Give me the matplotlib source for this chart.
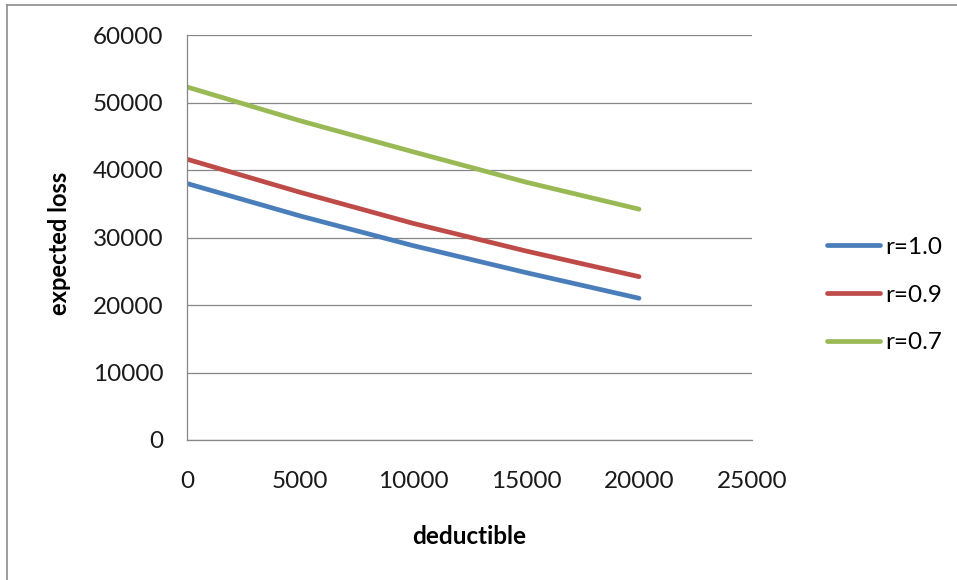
import matplotlib.pyplot as plt
from matplotlib.lines import Line2D

plt.rcParams['font.family'] = ['Lato', 'DejaVu Sans']

deductible = [0, 5000, 10000, 15000, 20000]
loss_r10 = [38000, 33200, 28800, 24800, 21000]
loss_r09 = [41600, 36700, 32100, 28000, 24200]
loss_r07 = [52300, 47300, 42700, 38200, 34200]
labels = ['r=1.0', 'r=0.9', 'r=0.7']
colors = ['#4A7EBB', '#BE4B48', '#98B954']

W, H = 957, 580
fig = plt.figure(figsize=(W / 100, H / 100), dpi=100)
ax = fig.add_axes([187 / W, 1 - 440 / H, (752 - 187) / W, (440 - 35) / H])

for ys, lab, c in zip([loss_r10, loss_r09, loss_r07], labels, colors):
    ax.plot(deductible, ys, color=c, lw=3.4, label=lab, solid_capstyle='round')

ax.set_xlim(0, 25000)
ax.set_ylim(0, 60000)
ax.set_xticks(range(0, 25001, 5000))
ax.set_yticks(range(0, 60001, 10000))
ax.grid(axis='y', color='#878787', lw=0.9)
ax.set_axisbelow(True)
for s in ['top', 'right']:
    ax.spines[s].set_visible(False)
for s in ['left', 'bottom']:
    ax.spines[s].set_color('#878787')
    ax.spines[s].set_linewidth(0.9)
ax.tick_params(axis='both', length=0, labelsize=17.5, colors='#1a1a1a')
ax.tick_params(axis='y', pad=17)
ax.tick_params(axis='x', pad=22)

fig.text(469 / W, 1 - 536 / H, 'deductible', ha='center', va='center',
         fontsize=17.5, fontweight='bold')
fig.text(60 / W, 1 - 243 / H, 'expected loss', ha='center', va='center',
         rotation=90, fontsize=17, fontweight='bold')

ax.legend(loc='center left', bbox_to_anchor=(805 / W, 1 - 295 / H),
          bbox_transform=fig.transFigure, frameon=False, fontsize=17.5,
          handlelength=2.2, handletextpad=0.2, labelspacing=1.1)

# outer chart border (only top and left visible)
fig.add_artist(Line2D([7 / W, 7 / W], [0, 1 - 5 / H], color='#8c8c8c', lw=1.2))
fig.add_artist(Line2D([7 / W, 1], [1 - 5 / H, 1 - 5 / H], color='#8c8c8c', lw=1.2))

fig.savefig('out.png', dpi=100)
